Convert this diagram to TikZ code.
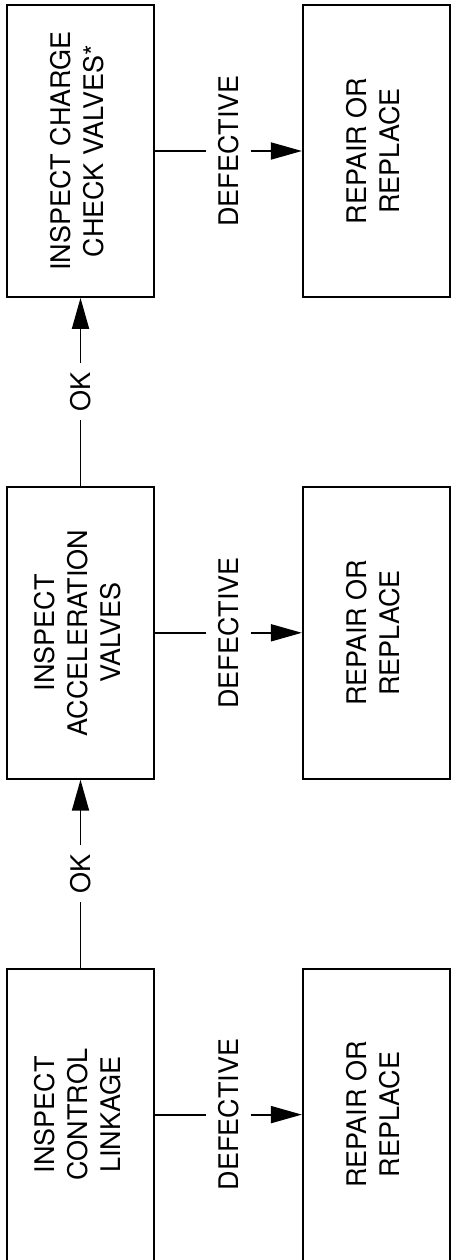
\documentclass[tikz,border=0pt]{standalone}
\usepackage{fontspec}
\setmainfont{TeX Gyre Heros}
\usetikzlibrary{positioning,calc,arrows.meta}
\newcommand\vtext[1]{\rotatebox{90}{\begin{tabular}{@{}c@{}}#1\end{tabular}}}

\begin{document}
\begin{tikzpicture}[x=1pt, y=1pt, line width=1.8pt,
	every node/.style={font=\fontsize{27}{33}\selectfont},
	box/.style={draw, rectangle, minimum width=147pt, minimum height=292pt, inner sep=0pt},
	tag/.style={inner xsep=11pt, inner ysep=8pt},
	flow/.style={-{Triangle[length=31pt,width=17pt]}}]
		\useasboundingbox (0,0) rectangle (450,-1260);
		%Prüfschritte
		\node[box] (charge) at (80.5,-151) {\vtext{INSPECT CHARGE\\CHECK VALVES*}};
		\node[box, below=188pt of charge] (accel) {\vtext{INSPECT\\ACCELERATION\\VALVES}};
		\node[box, below=188pt of accel] (linkage) {\vtext{INSPECT\\CONTROL\\LINKAGE}};
		%Reparatur
		\node[box, right=147pt of charge] (fixC) {\vtext{REPAIR OR\\REPLACE}};
		\node[box, right=147pt of accel] (fixA) {\vtext{REPAIR OR\\REPLACE}};
		\node[box, right=147pt of linkage] (fixL) {\vtext{REPAIR OR\\REPLACE}};
		\node[tag] (defC) at ($(charge.east)!.5!(fixC.west)$) {\rotatebox{90}{DEFECTIVE}};
		\node[tag] (defA) at ($(accel.east)!.5!(fixA.west)$) {\rotatebox{90}{DEFECTIVE}};
		\node[tag] (defL) at ($(linkage.east)!.5!(fixL.west)$) {\rotatebox{90}{DEFECTIVE}};
		\draw (charge) -- (defC); \draw[flow] (defC) -- (fixC);
		\draw (accel) -- (defA); \draw[flow] (defA) -- (fixA);
		\draw (linkage) -- (defL); \draw[flow] (defL) -- (fixL);
		%OK-Pfad
		\node[tag] (okL) at ($(linkage.north)!.5!(accel.south)$) {\rotatebox{90}{OK}};
		\node[tag] (okA) at ($(accel.north)!.5!(charge.south)$) {\rotatebox{90}{OK}};
		\draw (linkage) -- (okL); \draw[flow] (okL) -- (accel);
		\draw (accel) -- (okA); \draw[flow] (okA) -- (charge);
	\end{tikzpicture}
\end{document}
